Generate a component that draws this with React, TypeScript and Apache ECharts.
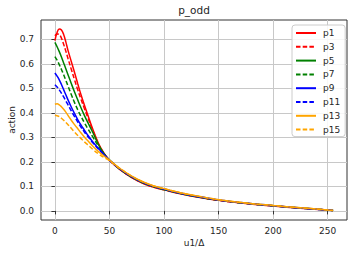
import React, { useEffect, useRef } from "react";
import * as echarts from "echarts";

const xs = [0, 2, 4, 6, 8, 10, 12, 15, 18, 21, 24, 27, 30, 35, 40, 45, 50, 60, 70, 80, 90, 100, 115, 130, 150, 175, 200, 225, 255];

const p1 = [0.695, 0.728, 0.742, 0.738, 0.72, 0.69, 0.655, 0.61, 0.565, 0.518, 0.473, 0.432, 0.393, 0.33, 0.275, 0.236, 0.207, 0.167, 0.137, 0.114, 0.097, 0.086, 0.07, 0.057, 0.043, 0.03, 0.02, 0.011, 0.002];
const p3 = [0.715, 0.722, 0.72, 0.705, 0.68, 0.652, 0.622, 0.578, 0.535, 0.493, 0.455, 0.418, 0.383, 0.325, 0.272, 0.234, 0.207, 0.168, 0.138, 0.115, 0.098, 0.087, 0.071, 0.058, 0.043, 0.031, 0.021, 0.012, 0.002];
const p5 = [0.688, 0.67, 0.65, 0.628, 0.604, 0.58, 0.556, 0.52, 0.485, 0.452, 0.42, 0.39, 0.362, 0.318, 0.27, 0.234, 0.208, 0.169, 0.139, 0.116, 0.099, 0.087, 0.071, 0.058, 0.044, 0.031, 0.021, 0.012, 0.002];
const p7 = [0.63, 0.615, 0.597, 0.577, 0.556, 0.533, 0.51, 0.475, 0.442, 0.412, 0.385, 0.36, 0.337, 0.3, 0.264, 0.232, 0.208, 0.169, 0.14, 0.117, 0.1, 0.088, 0.072, 0.059, 0.044, 0.031, 0.021, 0.012, 0.002];
const p9 = [0.563, 0.55, 0.535, 0.516, 0.495, 0.474, 0.453, 0.424, 0.397, 0.372, 0.35, 0.33, 0.31, 0.28, 0.255, 0.23, 0.207, 0.17, 0.141, 0.118, 0.101, 0.089, 0.072, 0.059, 0.044, 0.031, 0.021, 0.012, 0.002];
const p11 = [0.515, 0.506, 0.494, 0.48, 0.465, 0.449, 0.433, 0.408, 0.385, 0.362, 0.341, 0.322, 0.305, 0.277, 0.252, 0.228, 0.207, 0.17, 0.141, 0.118, 0.101, 0.089, 0.073, 0.06, 0.045, 0.032, 0.022, 0.012, 0.002];
const p13 = [0.435, 0.437, 0.433, 0.425, 0.415, 0.403, 0.39, 0.37, 0.352, 0.335, 0.318, 0.302, 0.287, 0.263, 0.242, 0.224, 0.207, 0.172, 0.143, 0.12, 0.103, 0.091, 0.074, 0.061, 0.046, 0.032, 0.022, 0.013, 0.002];
const p15 = [0.39, 0.388, 0.385, 0.378, 0.37, 0.361, 0.352, 0.337, 0.322, 0.308, 0.295, 0.282, 0.27, 0.25, 0.233, 0.218, 0.205, 0.172, 0.143, 0.12, 0.103, 0.091, 0.074, 0.061, 0.046, 0.032, 0.022, 0.013, 0.002];

const seriesNames = ["p1", "p3", "p5", "p7", "p9", "p11", "p13", "p15"];
const seriesValues = [p1, p3, p5, p7, p9, p11, p13, p15];
const seriesColors = ["#ff0000", "#ff0000", "#008000", "#008000", "#0000ff", "#0000ff", "#ffa500", "#ffa500"];
const seriesDashed = [false, true, false, true, false, true, false, true];

const xTicks = [0, 50, 100, 150, 200, 250];
const yTicks = [0, 0.1, 0.2, 0.3, 0.4, 0.5, 0.6, 0.7];

const FONT = "DejaVu Sans";

export default function App() {
  const ref = useRef<HTMLDivElement>(null);
  useEffect(() => {
    if (!ref.current) return;
    const chart = echarts.init(ref.current, undefined, { renderer: "svg" });
    const left = 41, top = 20, right = 7, bottom = 36;
    chart.setOption({
      animation: false,
      backgroundColor: "#ffffff",
      textStyle: { fontFamily: FONT },
      grid: {
        left, top, right, bottom,
        containLabel: false,
        outerBoundsMode: "none",
        show: true,
        borderColor: "#333333",
        borderWidth: 1,
        backgroundColor: "transparent",
      },
      graphic: [
        {
          type: "text",
          x: (left + (354 - right)) / 2,
          y: 10,
          style: {
            text: "p_odd",
            fontFamily: FONT,
            fontSize: 10.5,
            fill: "#262626",
            textAlign: "center",
            textVerticalAlign: "middle",
          },
        },
      ],
      legend: {
        orient: "vertical",
        left: 292,
        top: 25,
        data: seriesNames,
        itemWidth: 20,
        itemHeight: 10,
        itemGap: 3.8,
        padding: [3, 5, 2, 3],
        backgroundColor: "rgba(255,255,255,0.85)",
        borderColor: "#cccccc",
        borderWidth: 1,
        borderRadius: 3,
        itemStyle: { opacity: 0, borderWidth: 0 },
        textStyle: { fontFamily: FONT, fontSize: 9, color: "#262626", lineHeight: 10, padding: [0, 0, 0, 2] },
      },
      xAxis: {
        type: "value",
        min: -12.75,
        max: 267.75,
        name: "u1/Δ",
        nameLocation: "middle",
        nameGap: 18,
        nameMoveOverlap: false,
        nameTextStyle: { fontFamily: FONT, fontSize: 9, color: "#262626" },
        axisLine: { show: false },
        axisTick: { show: true, inside: false, length: 3.5, customValues: xTicks, lineStyle: { color: "#333333" } },
        axisLabel: { customValues: xTicks, margin: 6, fontFamily: FONT, fontSize: 9, color: "#262626" },
        splitLine: { show: true, lineStyle: { color: "#c8c8c8", width: 1 } },
      },
      yAxis: {
        type: "value",
        min: -0.0371,
        max: 0.7791,
        name: "action",
        nameLocation: "middle",
        nameRotate: 90,
        nameGap: 25,
        nameMoveOverlap: false,
        nameTextStyle: { fontFamily: FONT, fontSize: 9, color: "#262626" },
        axisLine: { show: false },
        axisTick: { show: true, inside: false, length: 3.5, customValues: yTicks, lineStyle: { color: "#333333" } },
        axisLabel: {
          customValues: yTicks,
          margin: 7,
          fontFamily: FONT,
          fontSize: 9,
          color: "#262626",
          formatter: (v: number) => v.toFixed(1),
        },
        splitLine: { show: true, lineStyle: { color: "#c8c8c8", width: 1 } },
      },
      series: seriesNames.map((name, i) => ({
        name,
        type: "line",
        data: xs.map((x, j) => [x, seriesValues[i][j]]),
        smooth: 0.4,
        showSymbol: false,
        symbol: "none",
        color: seriesColors[i],
        lineStyle: { color: seriesColors[i], width: 1.5, type: seriesDashed[i] ? [4.5, 2.2] : "solid" },
      })),
    });
    return () => chart.dispose();
  }, []);
  return <div ref={ref} style={{ position: "absolute", left: 0, top: 0, width: 354, height: 256 }} />;
}
